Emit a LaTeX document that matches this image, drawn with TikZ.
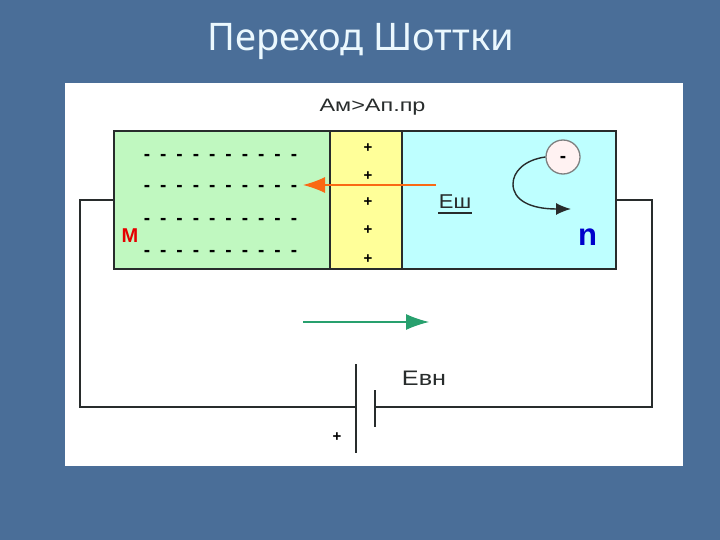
\documentclass[tikz,border=0pt]{standalone}
\usepackage{fontspec}
\setmainfont{Liberation Sans}
\newfontfamily\titlefont{Noto Sans}
\usetikzlibrary{positioning,calc,arrows.meta}
\definecolor{slide}{RGB}{74,110,152}
\definecolor{metal}{RGB}{192,248,192}
\definecolor{barrier}{RGB}{255,255,153}
\definecolor{semi}{RGB}{190,255,255}
\definecolor{ink}{RGB}{40,44,44}
\definecolor{fieldcol}{RGB}{250,105,20}
\definecolor{flowcol}{RGB}{40,160,110}
\tikzset{
  block/.style={draw=ink,line width=1.5pt,inner sep=0pt,outer sep=0pt,minimum height=138pt},
  wire/.style={draw=ink,line width=1.5pt},
  charge/.style={inner sep=0pt,anchor=base,font=\fontsize{19}{19}\selectfont\bfseries,text=black},
  caption/.style={inner sep=0pt,text=ink}
}
\begin{document}
\begin{tikzpicture}[x=1pt,y=-1pt]
    \useasboundingbox (0,0) rectangle (720,540);
    \fill[slide] (0,0) rectangle (720,540);
    \node[inner sep=0pt,text=white!92!cyan,font=\titlefont\fontsize{38}{38}\selectfont] (title) at (360.5,41) {Переход Шоттки};
    \node[fill=white,inner sep=0pt,minimum width=618pt,minimum height=383pt] (panel) at (374,274.5) {};
    %
    \node[block,fill=metal,minimum width=216pt] (metal) at (222,200) {};
    \node[block,fill=barrier,minimum width=72pt,right=0pt of metal] (barrier) {};
    \node[block,fill=semi,minimum width=214pt,right=0pt of barrier] (semi) {};
    %
    \foreach \row in {155,186,219,250}
      \foreach \col in {0,...,9}
        \node[charge] (minus\row\col) at (147+\col*16.33,\row+6) {-};
    \foreach \row in {148,176,202,229,258}
      \node[charge,font=\fontsize{15}{15}\selectfont\bfseries] (plus\row) at (368,\row+5) {+};
    %
    \node[caption,xscale=1.3,font=\fontsize{18}{18}\selectfont] (work) at (372.5,107) {Ам>Ап.пр};
    \node[caption,text=red!90!black,font=\fontsize{20}{20}\selectfont\bfseries] (m) at (130,235.5) {М};
    \node[caption,text=blue!80!black,font=\fontsize{31}{31}\selectfont\bfseries] (n) at (587.5,237) {n};
    \node[caption,xscale=1.1,font=\fontsize{20}{20}\selectfont] (esh) at (455,202) {Еш};
    \draw[ink,line width=1.5pt] (438,213) -- (472,213);
    \node[caption,xscale=1.2,font=\fontsize{21}{21}\selectfont] (evn) at (424,378) {Евн};
    \node[charge,font=\fontsize{15}{15}\selectfont\bfseries] (bplus) at (337,441) {+};
    %
    \node[draw=ink!60,fill=white!95!red,circle,line width=1.3pt,minimum size=34pt,inner sep=0pt] (el) at (563,157) {};
    \node[charge] (el_sign) at (el.center) [yshift=-6pt] {-};
    \coordinate (el_end) at (571,209);
    \draw[ink,line width=1.4pt,-{Latex[length=15pt,width=12pt]}] (el.west) .. controls (524,160) and (513,172) .. (513,184) .. controls (513,200) and (530,209) .. (el_end);
    %
    \coordinate (field_a) at (436,185);
    \coordinate (field_b) at (303,185);
    \draw[fieldcol,line width=1.2pt,-{Latex[length=22pt,width=16pt]}] (field_a) -- (field_b);
    \coordinate (flow_a) at (303,322);
    \coordinate (flow_b) at (429,322);
    \draw[flowcol,line width=1.2pt,-{Latex[length=23pt,width=16pt]}] (flow_a) -- (flow_b);
    %
    \coordinate (bat_l) at (356,407);
    \coordinate (bat_r) at (375,407);
    \coordinate (wire_l) at (80,407);
    \coordinate (wire_r) at (652,407);
    \draw[wire] (metal.west) -| (wire_l) -- (bat_l);
    \draw[wire] (semi.east) -| (wire_r) -- (bat_r);
    \draw[wire] ($(bat_l)+(0,-43)$) -- ($(bat_l)+(0,46)$);
    \draw[wire] ($(bat_r)+(0,-17)$) -- ($(bat_r)+(0,20)$);
\end{tikzpicture}
\end{document}
